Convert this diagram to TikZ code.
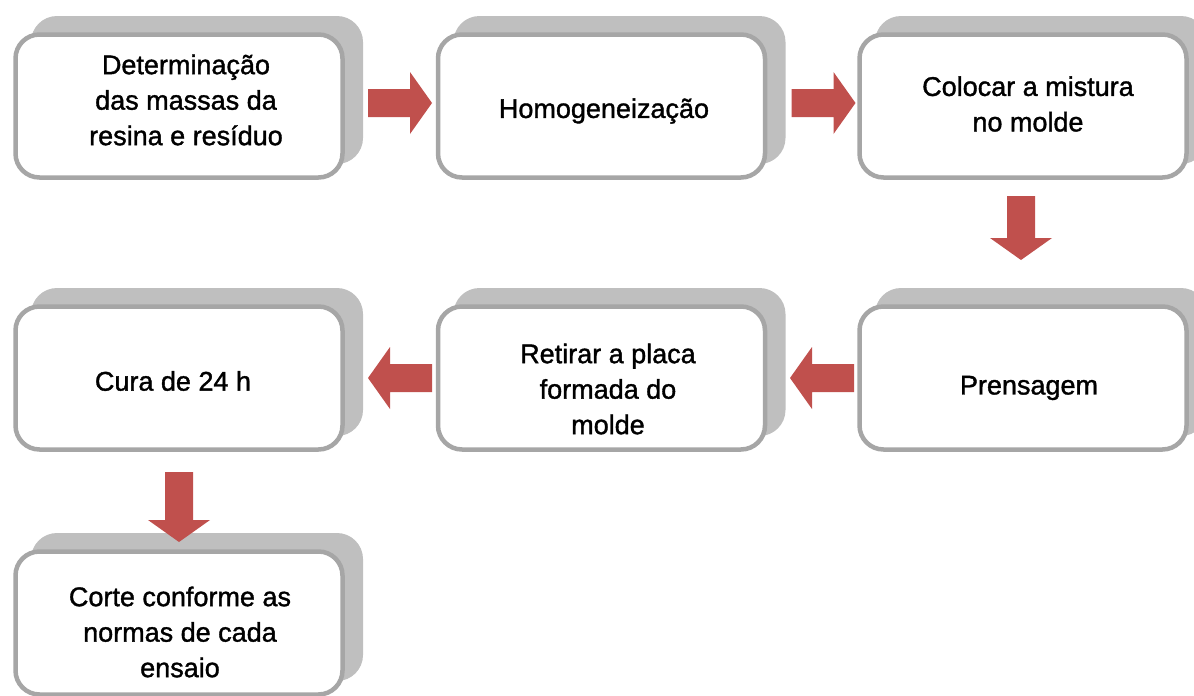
\documentclass[tikz,border=0pt]{standalone}
\usepackage{fontspec}
\setmainfont{Liberation Sans}
\newfontfamily\stepfont{Liberation Sans}[FakeBold=1.3]
\usetikzlibrary{calc}
\definecolor{arrowred}{HTML}{C0504D}
\definecolor{shadowgray}{HTML}{BFBFBF}
\definecolor{bordergray}{HTML}{A6A6A6}
\tikzset{
  stepbox/.style={draw=bordergray, line width=4.5pt, fill=white, rounded corners=24pt,
    minimum width=327pt, minimum height=143pt, inner sep=0pt, outer sep=0pt},
  backbox/.style={fill=shadowgray, rounded corners=26pt,
    minimum width=332pt, minimum height=148pt, inner sep=0pt, outer sep=0pt},
  steptext/.style={align=center, font=\stepfont\fontsize{27}{35.5}\selectfont, inner sep=0pt},
  blkarrow/.pic={
    \fill[arrowred] (-\arrlen/2,-14) -- (\arrlen/2-22,-14) -- (\arrlen/2-22,-31)
      -- (\arrlen/2,0) -- (\arrlen/2-22,31) -- (\arrlen/2-22,14) -- (-\arrlen/2,14) -- cycle;
  }
}
\newcommand\arrlen{64}
\begin{document}
\begin{tikzpicture}[x=1pt,y=-1pt]
\useasboundingbox (0,0) rectangle (1194,696);
% shadows
\foreach \n/\cx/\cy in {s1/179/106, s2/601.5/106, s3/1023/106, s4/1023/378, s5/601.5/378, s6/179/378, s7/179/623}
  \node[backbox] (\n) at (\cx+18,\cy-16) {};
% boxes
\node[stepbox] (b1) at (179,106) {};
\node[stepbox] (b2) at (601.5,106) {};
\node[stepbox] (b3) at (1023,106) {};
\node[stepbox] (b4) at (1023,378) {};
\node[stepbox] (b5) at (601.5,378) {};
\node[stepbox] (b6) at (179,378) {};
\node[stepbox] (b7) at (179,623) {};
% texts
\node[steptext] (t1) at (186,100) {Determinação\\das massas da\\resina e resíduo};
\node[steptext] (t2) at (604,111) {Homogeneização};
\node[steptext] (t3) at (1028,104) {Colocar a mistura\\no molde};
\node[steptext] (t4) at (1029,388) {Prensagem};
\node[steptext] (t5) at (608,389) {Retirar a placa\\formada do\\molde};
\node[steptext] (t6) at (173,381) {Cura de 24 h};
\node[steptext] (t7) at (180,632) {Corte conforme as\\normas de cada\\ensaio};
% arrows
\pic at (400,103) {blkarrow};
\pic at (823.5,103) {blkarrow};
\pic[rotate=-90] at (1021,228) {blkarrow};
\pic[rotate=180] at (822,378) {blkarrow};
\pic[rotate=180] at (400,378) {blkarrow};
\renewcommand\arrlen{70}
\pic[rotate=-90] at (179,507) {blkarrow};
\end{tikzpicture}
\end{document}
